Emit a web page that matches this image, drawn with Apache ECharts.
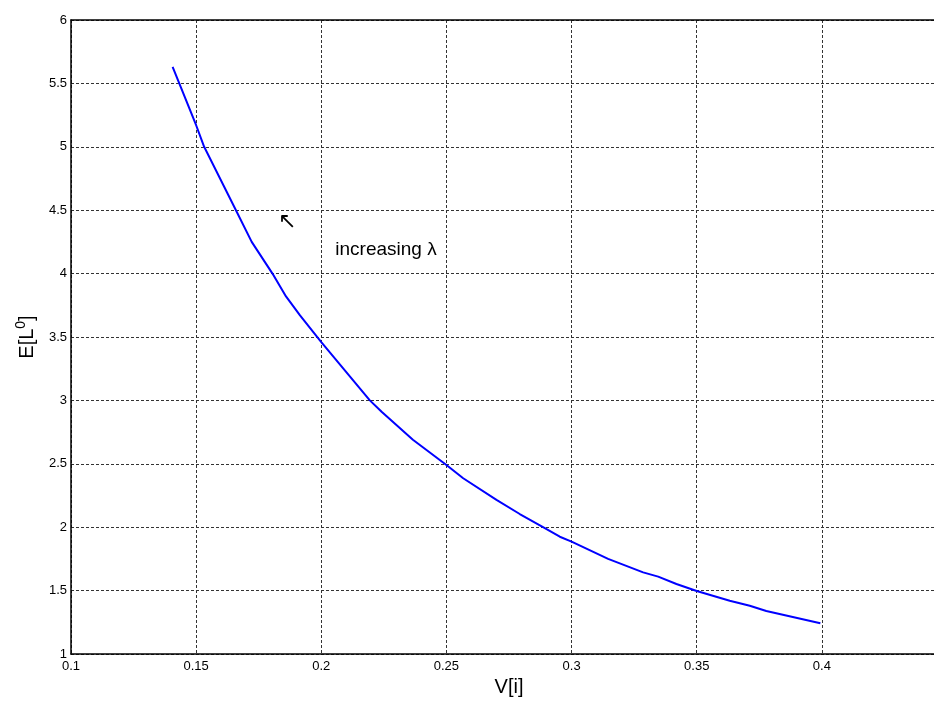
<!DOCTYPE html>
<html>
<head>
<meta charset="utf-8">
<script src="https://cdn.jsdelivr.net/npm/echarts@6/dist/echarts.min.js"></script>
<style>
  html, body { margin: 0; padding: 0; background: #fff; }
  #chart { width: 934px; height: 702px; }
</style>
</head>
<body>
<div id="chart"></div>
<script>
// values
const vValues = [0.1406, 0.150, 0.1532, 0.1659, 0.1722, 0.1805, 0.1859, 0.1915, 0.200, 0.2194,
  0.2241, 0.2366, 0.250, 0.2567, 0.270, 0.2793, 0.2886, 0.2953, 0.300, 0.3146,
  0.3286, 0.3346, 0.3419, 0.350, 0.3632, 0.3712, 0.3778, 0.3994]
const eValues = [5.63, 5.17, 5.00, 4.50, 4.25, 4.00, 3.82, 3.67, 3.46, 3.00,
  2.91, 2.69, 2.49, 2.386, 2.215, 2.104, 2.00, 1.925, 1.886, 1.75,
  1.644, 1.61, 1.552, 1.497, 1.42, 1.38, 1.339, 1.242]

const xRange = [0.1, 0.45, 0.05]
const yRange = [1, 6, 0.5]

const notes = [
  { text: '↖', at: [0.1825, 4.41], size: 22 },
  { text: 'increasing λ', at: [0.2054, 4.19], size: 19 },
]

const FONT = 'Liberation Sans, Arial, Helvetica, sans-serif'
const GRID_LINE = { color: '#333', width: 1, type: [3, 2] }

const chart = echarts.init(document.getElementById('chart'))

const fmt = (v) => (v > 0.44 && v < 0.46 ? '' : String(Math.round(v * 100) / 100))

chart.setOption({
  animation: false,
  backgroundColor: '#fff',
  textStyle: { fontFamily: FONT },
  // plot runs past the right edge of the picture, as in the original
  grid: { left: 71, top: 20, width: 876, height: 634, containLabel: false, outerBoundsMode: 'none' },
  xAxis: [
    {
      type: 'value', min: xRange[0], max: xRange[1], interval: xRange[2],
      name: 'V[i]', nameLocation: 'middle', nameGap: 23,
      nameTextStyle: { fontSize: 20, color: '#000', fontFamily: FONT },
      axisLine: { show: true, onZero: false, lineStyle: { color: '#000', width: 1.5 } },
      axisTick: { show: false },
      axisLabel: { color: '#000', fontSize: 13, margin: 6, formatter: fmt },
      splitLine: { show: true, lineStyle: GRID_LINE },
    },
    {
      type: 'value', position: 'top', min: xRange[0], max: xRange[1], interval: xRange[2],
      axisLine: { show: true, lineStyle: { color: '#000', width: 1.5 } },
      axisTick: { show: false }, axisLabel: { show: false }, splitLine: { show: false },
    },
  ],
  yAxis: {
    type: 'value', min: yRange[0], max: yRange[1], interval: yRange[2],
    name: 'E[L{s|0}]', nameLocation: 'middle', nameGap: 31,
    nameTextStyle: {
      fontSize: 20, color: '#000', fontFamily: FONT,
      rich: { s: { fontSize: 14, color: '#000', fontFamily: FONT, padding: [0, 0, 12, 0] } },
    },
    axisLine: { show: true, onZero: false, lineStyle: { color: '#000', width: 1.5 } },
    axisTick: { show: false },
    axisLabel: { color: '#000', fontSize: 13, margin: 4, formatter: fmt },
    splitLine: { show: true, lineStyle: GRID_LINE },
  },
  series: [
    {
      type: 'line',
      data: vValues.map((v, i) => [v, eValues[i]]),
      showSymbol: false,
      lineStyle: { color: '#0000ff', width: 2 },
      z: 3,
      markPoint: {
        silent: true,
        symbol: 'circle', symbolSize: 1,
        itemStyle: { color: 'transparent' },
        data: notes.map((n) => ({
          name: n.text,
          coord: n.at,
          label: {
            show: true, position: 'right', distance: 0,
            color: '#000', fontSize: n.size, fontFamily: FONT,
            formatter: (p) => p.name,
          },
        })),
      },
    },
  ],
})
</script>
</body>
</html>
